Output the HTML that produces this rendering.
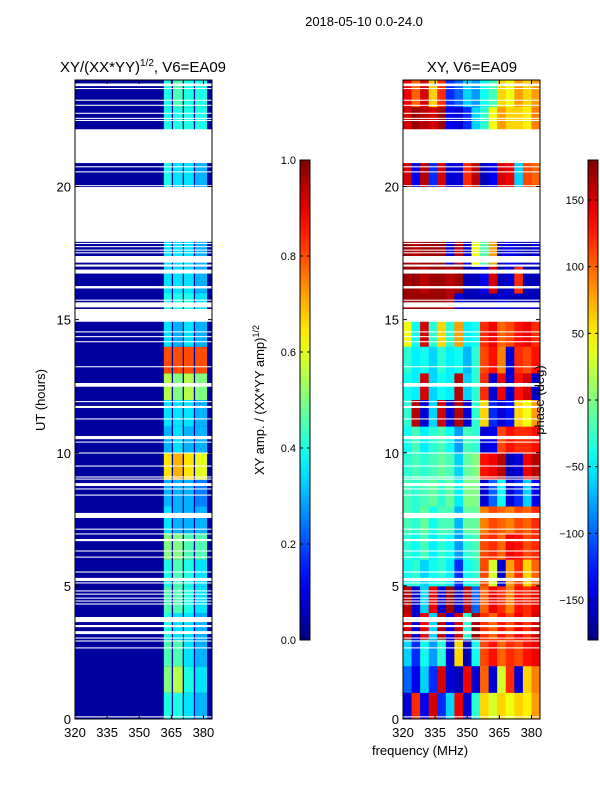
<!DOCTYPE html>
<html><head><meta charset="utf-8"><style>
body{margin:0;background:#fff;}
svg text{font-family:"Liberation Sans",sans-serif;fill:#000;}
</style></head><body>
<svg id="fig" width="600" height="800" viewBox="0 0 600 800"></svg>
<script>
// ---- data ----
const hours = [0,1,2,3,4,5,6,7,8,9,10,11,12,13,14,15,16,17,18,19,20,21,22,23];
const subbandEdges = [[361.5,365.2],[365.8,370.3],[370.9,375.5],[376.1,381.7]];
const ampBackground = 0.03;
const ampBands = [
 [0.4,0.4,0.35,0.3],[0.5,0.55,0.4,0.35],[0.45,0.45,0.35,0.3],[0.4,0.35,0.35,0.3],
 [0.45,0.45,0.4,0.35],[0.4,0.45,0.4,0.35],[0.5,0.5,0.45,0.45],[0.35,0.3,0.3,0.3],
 [0.3,0.3,0.3,0.25],[0.65,0.7,0.65,0.6],[0.3,0.35,0.3,0.3],[0.35,0.35,0.35,0.3],
 [0.55,0.5,0.55,0.5],[0.8,0.8,0.8,0.8],[0.35,0.3,0.35,0.3],[0.4,0.4,0.4,0.35],
 [0.35,0.35,0.35,0.3],[0.35,0.35,0.35,0.3],[0.35,0.35,0.35,0.3],[0.35,0.35,0.35,0.3],
 [0.4,0.35,0.35,0.3],[0.4,0.4,0.4,0.35],[0.4,0.4,0.4,0.4],[0.4,0.45,0.4,0.4]];
const phaseCols = [320,324,328,332,336,340,344,348,352,356,360,364,368,372,376,380];
const phase = [
 [-150,120,-140,150,-120,-60,140,-150,-30,60,30,60,40,60,50,80],
 [-100,-140,-60,-120,150,-150,-160,140,-150,100,-150,30,120,-150,60,90],
 [-60,-120,-40,-80,-30,-150,60,-160,-40,110,130,100,120,110,130,140],
 [150,-150,140,-60,160,-140,150,-30,170,120,100,130,110,140,120,150],
 [160,-150,-60,140,-150,170,-150,160,-100,100,140,120,90,130,120,140],
 [-40,-30,-60,-40,-30,-50,-120,-40,-30,110,30,-150,80,120,60,100],
 [-30,-40,-20,-50,-30,-40,-80,-30,-20,110,120,100,140,130,110,120],
 [-20,-30,-10,-40,-20,-20,-70,-10,-10,90,110,100,90,110,100,120],
 [-20,-30,-20,-10,-30,-10,-50,0,0,-150,-100,-40,-150,-120,-60,-140],
 [-30,-20,-30,-20,-10,-20,-60,-10,0,130,140,160,-160,-150,140,160],
 [-40,-20,-50,-30,-20,-40,-80,-20,-30,-150,-140,110,130,120,120,130],
 [-30,160,-150,-60,150,-150,160,-150,-30,60,-120,-150,-130,60,40,80],
 [-40,-50,150,-60,-40,-50,160,-60,-30,120,-150,140,-150,130,150,-150],
 [-30,-50,-40,-60,-30,-50,-40,-70,-30,110,130,90,-150,120,110,130],
 [40,-40,150,-30,60,-30,80,-50,-40,120,140,100,110,130,140,120],
 [170,170,170,170,170,160,-150,-160,-160,-160,-160,-150,-160,-160,-160,-160],
 [170,170,160,170,170,160,170,-160,-160,-140,150,-160,-150,120,-160,-160],
 [170,160,170,170,170,-150,160,-150,40,-20,80,-150,-140,-150,-160,-150],
 [0,0,0,0,0,0,0,0,0,0,0,0,0,0,0,0],
 [0,0,0,0,0,0,0,0,0,0,0,0,0,0,0,0],
 [150,-140,160,-120,150,-150,-150,120,160,-160,-140,150,140,-60,110,100],
 [120,100,160,-150,130,-100,-150,-40,-150,-100,-30,100,80,60,40,60],
 [150,170,160,150,170,-140,-150,-120,-60,-30,40,80,60,60,50,90],
 [140,100,150,60,120,-120,-100,-60,-80,-40,-20,60,40,80,60,80]];
const gaps = [[0.06,0.1],[2.65,2.69],[2.91,2.95],[3.02,3.06],[3.19,3.30],[3.45,3.53],[3.64,3.83],
 [4.30,4.34],[4.41,4.45],[4.52,4.56],[4.67,4.71],[4.79,4.83],[5.09,5.13],[5.18,5.30],[5.50,5.54],
 [6.06,6.10],[6.29,6.33],[6.68,6.76],[6.93,6.97],[7.11,7.15],[7.55,7.74],[8.39,8.43],[8.62,8.66],
 [8.75,8.86],[8.99,9.03],[9.07,9.11],[9.48,9.52],[9.97,10.01],[10.38,10.42],[10.51,10.63],
 [11.25,11.29],[11.68,11.76],[11.90,11.94],[12.48,12.62],[13.21,13.25],[14.15,14.19],[14.34,14.38],
 [14.52,14.56],[14.92,15.40],[15.46,15.65],[15.71,15.75],[16.17,16.26],[16.73,16.88],[16.99,17.07],
 [17.14,17.39],[17.49,17.53],[17.59,17.63],[17.72,17.76],[17.84,17.88],[17.92,19.98],[20.02,20.05],
 [20.53,20.57],[20.72,20.76],[20.88,22.15],[22.46,22.50],[22.54,22.58],[22.73,22.77],[23.03,23.07],
 [23.22,23.26],[23.66,23.70],[23.77,23.87]];
const ampTicks = [0.0,0.2,0.4,0.6,0.8,1.0];
const phaseTicks = [-150,-100,-50,0,50,100,150];
const hourTicks = [0,5,10,15,20];
const freqTicks = [320,335,350,365,380];

// ---- helpers ----
const NS='http://www.w3.org/2000/svg', svg=document.getElementById('fig');
function mk(tag,attrs,parent){const e=document.createElementNS(NS,tag);for(const k in attrs)e.setAttribute(k,attrs[k]);(parent||svg).appendChild(e);return e;}
function jet(t){t=Math.max(0,Math.min(1,t));
 const r=Math.max(0,Math.min(1,1.5-Math.abs(4*t-3))),g=Math.max(0,Math.min(1,1.5-Math.abs(4*t-2))),b=Math.max(0,Math.min(1,1.5-Math.abs(4*t-1)));
 return `rgb(${Math.round(r*255)},${Math.round(g*255)},${Math.round(b*255)})`;}
const yTop=80,yBot=719;
function yH(h){return yBot-h*(yBot-yTop)/24;}
function xF(x0){return f=>x0+(f-320)*137/64;}
const panels=[{x0:75,name:'amp-panel'},{x0:403,name:'phase-panel'}];

panels.forEach((p,pi)=>{
 const X=xF(p.x0);
 const g=mk('g',{});
 
 
 mk('clipPath',{id:'clip'+pi},g);
 mk('rect',{x:p.x0,y:yTop,width:137,height:yBot-yTop},g.lastChild);
 const cg=mk('g',{'clip-path':`url(#clip${pi})`},g);
 hours.forEach((h,i)=>{
  if(pi===0){
   const r=mk('rect',{x:X(320),y:yH(h+1),width:X(384)-X(320),height:yH(h)-yH(h+1)+0.5,fill:jet(ampBackground)},cg);
   
   
   subbandEdges.forEach((sb,j)=>{
    const c=mk('rect',{x:X(sb[0]),y:yH(h+1),width:X(sb[1])-X(sb[0]),height:yH(h)-yH(h+1)+0.5,fill:jet(ampBands[i][j])},cg);
    
    
   });
  } else {
   phaseCols.forEach((f,j)=>{
    const c=mk('rect',{x:X(f),y:yH(h+1),width:X(f+4)-X(f)+0.5,height:yH(h)-yH(h+1)+0.5,fill:jet((phase[i][j]+180)/360)},cg);
    
    
   });
  }
 });
 gaps.forEach(gp=>{
  const w=mk('rect',{x:p.x0,y:yH(gp[1]),width:137,height:Math.max(1,yH(gp[0])-yH(gp[1])),fill:'#fff'},cg);
  
  
 });
 const fr=mk('rect',{x:p.x0,y:yTop,width:137,height:yBot-yTop,fill:'none',stroke:'#000','stroke-width':1},g);
 
 
 hourTicks.forEach(h=>{
  mk('line',{x1:p.x0,x2:p.x0+4,y1:yH(h),y2:yH(h),stroke:'#000'},g);
  mk('line',{x1:p.x0+137,x2:p.x0+133,y1:yH(h),y2:yH(h),stroke:'#000'},g);
  const t=mk('text',{x:p.x0-4,y:yH(h)+5,'text-anchor':'end','font-size':13},g);t.textContent=h;
  
  
 });
 freqTicks.forEach(f=>{
  mk('line',{x1:X(f),x2:X(f),y1:yBot,y2:yBot-4,stroke:'#000'},g);
  mk('line',{x1:X(f),x2:X(f),y1:yTop,y2:yTop+4,stroke:'#000'},g);
  const t=mk('text',{x:X(f),y:737,'text-anchor':'middle','font-size':13},g);t.textContent=f;
  
  
 });
});

// colorbars
const defs=mk('defs',{});
const lg=mk('linearGradient',{id:'jetg',x1:0,y1:1,x2:0,y2:0},defs);
for(let i=0;i<=20;i++)mk('stop',{offset:i/20,'stop-color':jet(i/20)},lg);
[{x:300,name:'amp-colorbar',ticks:ampTicks,lo:0,hi:1,fmt:v=>v.toFixed(1)},{x:588,name:'phase-colorbar',ticks:phaseTicks,lo:-180,hi:180,fmt:v=>v<0?'\u2212'+(-v):''+v}].forEach(cb=>{
 const g=mk('g',{});
 
 
 mk('rect',{x:cb.x,y:160,width:10,height:480,fill:'url(#jetg)',stroke:'#000','stroke-width':1},g);
 cb.ticks.forEach(v=>{
  const y=640-(v-cb.lo)/(cb.hi-cb.lo)*480;
  mk('line',{x1:cb.x,x2:cb.x+3,y1:y,y2:y,stroke:'#000'},g);
  mk('line',{x1:cb.x+10,x2:cb.x+7,y1:y,y2:y,stroke:'#000'},g);
  const t=mk('text',{x:cb.x-4,y:y+4,'text-anchor':'end','font-size':11},g);t.textContent=cb.fmt(v);
  
  
 });
});
</script>
<svg width="600" height="800" style="position:absolute;left:0;top:0">
<text x="364" y="26" text-anchor="middle" font-size="13">2018-05-10 0.0-24.0</text>
<text x="143" y="72" text-anchor="middle" font-size="15">XY/(XX*YY)<tspan font-size="10" dy="-6">1/2</tspan><tspan dy="6">, V6=EA09</tspan></text>
<text x="472" y="72" text-anchor="middle" font-size="15">XY, V6=EA09</text>
<text x="45" y="400" text-anchor="middle" font-size="13" transform="rotate(-90 45 400)">UT (hours)</text>
<text x="264" y="400" text-anchor="middle" font-size="13" transform="rotate(-90 264 400)">XY amp. / (XX*YY amp)<tspan font-size="9" dy="-5">1/2</tspan></text>
<text x="544" y="400" text-anchor="middle" font-size="13" transform="rotate(-90 544 400)">phase (deg)</text>
<text x="420" y="755" text-anchor="middle" font-size="13">frequency (MHz)</text>
</svg>
</body></html>
